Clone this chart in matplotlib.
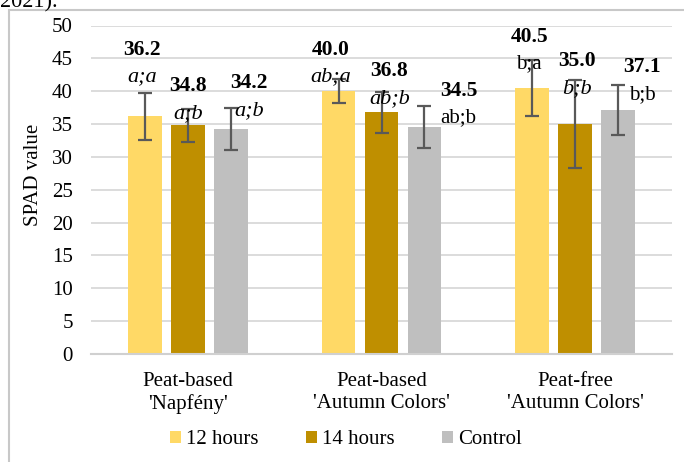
import numpy as np
import matplotlib.pyplot as plt
from matplotlib.patches import Rectangle

plt.rcParams['font.family'] = ['Liberation Serif', 'DejaVu Serif']

# data
categories = ["Peat-based\n'Napfény'", "Peat-based\n'Autumn Colors'", "Peat-free\n'Autumn Colors'"]
series = ["12 hours", "14 hours", "Control"]
h12 = [36.2, 40.0, 40.5]
h14 = [34.8, 36.8, 35.0]
ctrl = [34.2, 34.5, 37.1]
err12 = [3.6, 1.8, 4.3]
err14 = [2.5, 3.1, 6.7]
errc = [3.2, 3.2, 3.8]
letters12 = ["a;a", "ab;a", "b;a"]
letters14 = ["a;b", "ab;b", "b;b"]
lettersc = ["a;b", "ab;b", "b;b"]
italic12 = [True, True, False]
italic14 = [True, True, True]
italicc = [True, False, False]
# height (data units) of the letter line, as placed in the original
lab_y12 = [42.2, 42.2, 44.2]
lab_y14 = [36.6, 38.9, 40.4]
lab_yc = [37.1, 35.9, 39.5]
# horizontal shift of labels in pixels
lab_dx12 = [-3, -8, -3]
lab_dx14 = [0, 8, 2]
lab_dxc = [18, 34, 24]

colors = ['#FFD966', '#BF8F00', '#BFBFBF']

fig = plt.figure(figsize=(6.84, 4.62), dpi=100)
ax = fig.add_axes([91/684, 1 - 354/462, (672 - 91)/684, (354 - 25.5)/462])

x = np.arange(len(categories))
w = 0.175
step = 0.222
vals = [h12, h14, ctrl]
errs = [err12, err14, errc]
lets = [letters12, letters14, lettersc]
itals = [italic12, italic14, italicc]
laby = [lab_y12, lab_y14, lab_yc]
labdx = [lab_dx12, lab_dx14, lab_dxc]

for i in range(3):
    pos = x + (i - 1) * step
    ax.bar(pos, vals[i], width=w, color=colors[i], label=series[i], zorder=2)
    ax.errorbar(pos, vals[i], yerr=errs[i], fmt='none', ecolor='#595959',
                elinewidth=1.6, capsize=5, capthick=1.6, zorder=3)
    for j in range(3):
        dx = labdx[i][j] * 0.72
        ax.annotate(f"{vals[i][j]:.1f}", (pos[j], laby[i][j]), xytext=(dx, 19.5),
                    textcoords='offset points', ha='center', va='center',
                    fontsize=15.5, fontweight='bold', zorder=4)
        ax.annotate(lets[i][j], (pos[j], laby[i][j]), xytext=(dx, 0),
                    textcoords='offset points', ha='center', va='center',
                    fontsize=16 if itals[i][j] else 15,
                    fontstyle='italic' if itals[i][j] else 'normal', zorder=4)

ax.set_xlim(-0.5, 2.5)
ax.set_ylim(0, 50)
ax.set_yticks(np.arange(0, 51, 5))
ax.set_xticks(x)
ax.set_xticklabels(categories, fontsize=15, linespacing=1.2)
ax.tick_params(axis='both', length=0, labelsize=15)
ax.tick_params(axis='x', pad=13)
ax.tick_params(axis='y', pad=13)
ax.grid(axis='y', color='#D9D9D9', linewidth=1.3, zorder=0)
ax.set_axisbelow(True)
for s in ['top', 'right', 'left']:
    ax.spines[s].set_visible(False)
ax.spines['bottom'].set_color('#D0D0D0')
ax.spines['bottom'].set_linewidth(1.5)
ax.set_ylabel('SPAD value', fontsize=15)
ax.yaxis.set_label_coords(-0.083, 0.545)

fig.legend(loc='center', bbox_to_anchor=(346/684, 1 - 440/462), ncol=3,
           frameon=False, fontsize=15, handlelength=0.5, handleheight=0.5,
           handletextpad=0.25, columnspacing=2.3)

# outer chart border and cut caption
fig.patches.append(Rectangle((9/684, -0.1), 1.0, 1 - 10/462 + 0.1,
                             transform=fig.transFigure, fill=False,
                             edgecolor='#C8C8C8', linewidth=1.5))
fig.text(0, 1 - 7/462, '2021).', fontsize=16, va='baseline', ha='left')

fig.savefig('out.png', dpi=100)
